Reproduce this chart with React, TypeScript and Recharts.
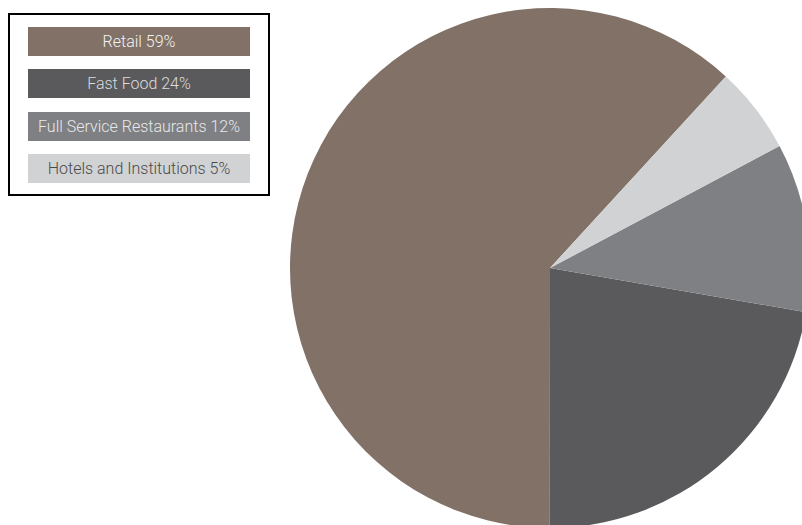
import React from 'react';
import { PieChart, Pie, Cell, Legend } from 'recharts';

// slice sizes (degrees / 3.6)
const categories = ['Retail', 'Fast Food', 'Full Service Restaurants', 'Hotels and Institutions'];
const sliceValues = [61.8, 22.3, 10.5, 5.4];
const legendPercents = ['59%', '24%', '12%', '5%'];

const COLORS = ['#817167', '#5a5a5c', '#7f8083', '#d1d2d4'];
const TEXT_COLORS = ['#f4f4f4', '#dcdcdc', '#e8e8e8', '#4a4a4a'];

const data = categories.map((name, i) => ({ name, value: sliceValues[i] }));

const renderLegend = () => (
  <div
    style={{
      border: '2px solid #000',
      width: 258,
      height: 179,
      boxSizing: 'content-box',
      position: 'relative',
      background: '#fff',
    }}
  >
    {categories.map((name, i) => (
      <div
        key={name}
        style={{
          position: 'absolute',
          left: 18,
          top: 11.5 + i * 42.5,
          width: 222,
          height: 29,
          background: COLORS[i],
          color: TEXT_COLORS[i],
          fontFamily: 'Roboto, sans-serif',
          fontWeight: 300,
          fontSize: 16,
          lineHeight: '29px',
          textAlign: 'center',
          whiteSpace: 'nowrap',
        }}
      >
        {`${name} ${legendPercents[i]}`}
      </div>
    ))}
  </div>
);

export default function App() {
  return (
    <div style={{ position: 'absolute', left: 0, top: 0, width: 802, height: 525, overflow: 'hidden', background: '#fff' }}>
      <PieChart width={802} height={525} margin={{ top: 0, right: 0, bottom: 0, left: 0 }}>
        <Pie
          data={data}
          dataKey="value"
          nameKey="name"
          cx={550}
          cy={268}
          outerRadius={260}
          startAngle={47.45}
          endAngle={407.45}
          stroke="none"
          isAnimationActive={false}
        >
          {data.map((entry, i) => (
            <Cell key={`cell-${entry.name}`} fill={COLORS[i]} />
          ))}
        </Pie>
        <Legend
          content={renderLegend}
          wrapperStyle={{ position: 'absolute', left: 8, top: 13, width: 'auto' }}
        />
      </PieChart>
    </div>
  );
}
